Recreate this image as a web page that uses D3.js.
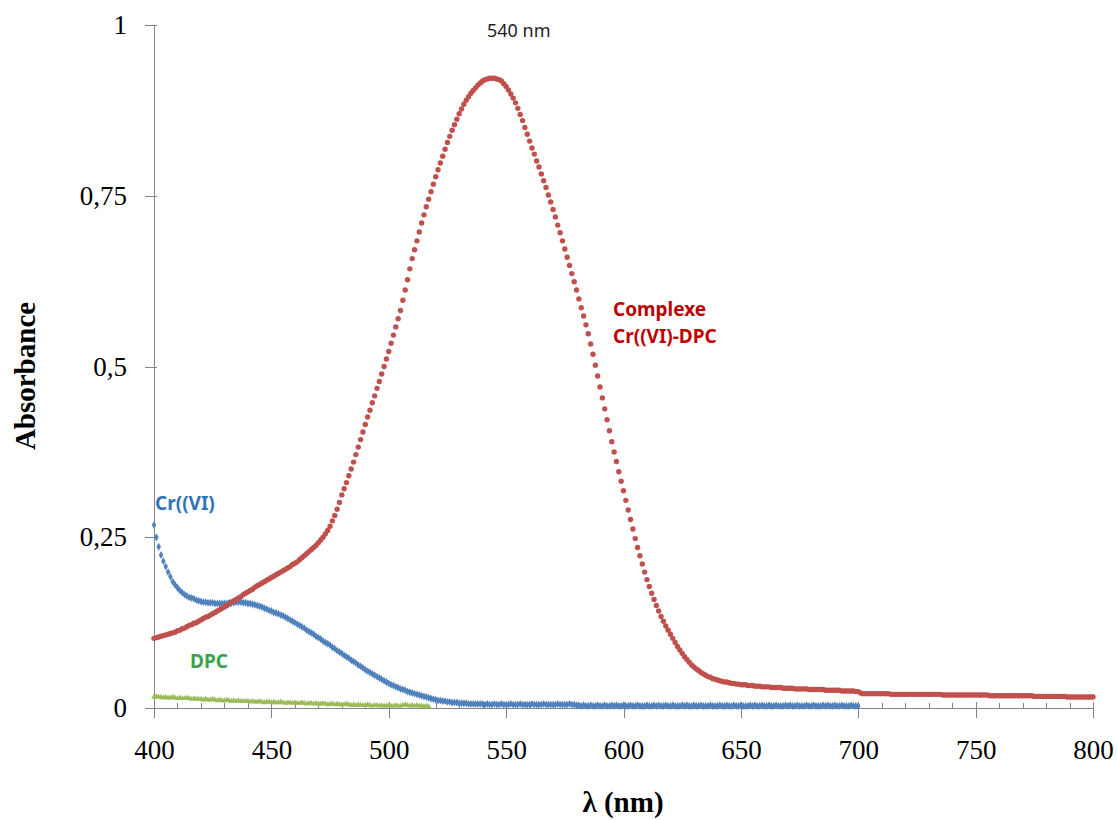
<!DOCTYPE html>
<meta charset="utf-8">
<style>
    body { margin: 0; background: #fff; }
    .axis path, .axis line { stroke: #868686; stroke-width: 1; shape-rendering: crispEdges; }
    .axis text { font-family: "Liberation Serif", "Times New Roman", serif; font-size: 27px; fill: #000; }
    .title { font-family: "Liberation Serif", "Times New Roman", serif; font-size: 29px; font-weight: bold; fill: #000; }
    .lbl { font-family: "Noto Sans", "Open Sans", sans-serif; font-size: 19px; font-weight: bold; }
</style>
<svg width="1117" height="820"></svg>
<script src="https://cdn.jsdelivr.net/npm/d3@7"></script>
<script>

    // spectra, one value per nm starting at 400 nm
    var startNm = 400;

    var complexe = [
        0.102,0.103,0.104,0.105,0.106,0.107,0.108,0.109,0.110,0.111, // 400
        0.113,0.114,0.116,0.117,0.119,0.121,0.122,0.124,0.125,0.127,
        0.129,0.131,0.133,0.134,0.136,0.138,0.140,0.142,0.144,0.146,
        0.148,0.150,0.152,0.155,0.157,0.159,0.161,0.163,0.166,0.168,
        0.170,0.172,0.174,0.177,0.179,0.181,0.183,0.185,0.187,0.189,
        0.191,0.193,0.195,0.197,0.199,0.201,0.203,0.205,0.207,0.210, // 450
        0.212,0.214,0.217,0.220,0.223,0.226,0.229,0.232,0.235,0.238,
        0.242,0.246,0.250,0.255,0.260,0.266,0.274,0.282,0.291,0.301,
        0.312,0.321,0.330,0.340,0.350,0.360,0.371,0.382,0.393,0.404,
        0.415,0.426,0.436,0.447,0.457,0.468,0.478,0.489,0.500,0.511,
        0.522,0.534,0.546,0.558,0.570,0.582,0.597,0.612,0.627,0.643, // 500
        0.658,0.671,0.684,0.697,0.710,0.722,0.734,0.745,0.756,0.767,
        0.778,0.788,0.798,0.808,0.818,0.828,0.837,0.846,0.854,0.862,
        0.870,0.877,0.884,0.890,0.895,0.900,0.904,0.908,0.912,0.915,
        0.918,0.920,0.921,0.922,0.922,0.922,0.921,0.920,0.918,0.914,
        0.910,0.905,0.899,0.893,0.886,0.878,0.869,0.860,0.850,0.840, // 550
        0.830,0.820,0.811,0.801,0.792,0.782,0.772,0.762,0.751,0.741,
        0.730,0.719,0.707,0.696,0.684,0.672,0.660,0.648,0.636,0.624,
        0.612,0.599,0.586,0.574,0.561,0.548,0.533,0.518,0.502,0.486,
        0.470,0.454,0.438,0.422,0.406,0.390,0.375,0.361,0.346,0.332,
        0.318,0.304,0.290,0.276,0.262,0.248,0.235,0.223,0.211,0.199, // 600
        0.188,0.178,0.168,0.159,0.150,0.142,0.134,0.127,0.120,0.114,
        0.108,0.102,0.096,0.090,0.085,0.080,0.075,0.071,0.067,0.063,
        0.060,0.057,0.055,0.052,0.050,0.048,0.046,0.045,0.043,0.042,
        0.041,0.040,0.039,0.038,0.038,0.037,0.036,0.036,0.035,0.035,
        0.034,0.034,0.034,0.033,0.033,0.033,0.032,0.032,0.032,0.031, // 650
        0.031,0.031,0.031,0.030,0.030,0.030,0.030,0.030,0.029,0.029,
        0.029,0.029,0.029,0.028,0.028,0.028,0.028,0.028,0.028,0.027,
        0.027,0.027,0.027,0.027,0.027,0.027,0.026,0.026,0.026,0.026,
        0.026,0.026,0.026,0.025,0.025,0.025,0.025,0.025,0.025,0.024,
        0.024,0.022,0.021,0.021,0.021,0.021,0.021,0.021,0.021,0.021, // 700
        0.021,0.021,0.021,0.021,0.020,0.020,0.020,0.020,0.020,0.020,
        0.020,0.020,0.020,0.020,0.020,0.020,0.020,0.020,0.020,0.020,
        0.020,0.020,0.020,0.020,0.020,0.020,0.019,0.019,0.019,0.019,
        0.019,0.019,0.019,0.019,0.019,0.019,0.019,0.019,0.019,0.019,
        0.019,0.019,0.019,0.019,0.019,0.019,0.018,0.018,0.018,0.018, // 750
        0.018,0.018,0.018,0.018,0.018,0.018,0.018,0.018,0.018,0.018,
        0.018,0.018,0.018,0.018,0.018,0.017,0.017,0.017,0.017,0.017,
        0.017,0.017,0.017,0.017,0.017,0.017,0.017,0.017,0.017,0.016,
        0.016,0.016,0.016,0.016,0.016,0.016,0.016,0.016,0.016,0.016,
        0.016 // 800
    ];

    var crVI = [
        0.268,0.250,0.236,0.224,0.215,0.207,0.199,0.192,0.185,0.180, // 400
        0.176,0.172,0.169,0.166,0.164,0.162,0.161,0.160,0.158,0.157,
        0.156,0.155,0.155,0.154,0.154,0.154,0.153,0.153,0.153,0.153,
        0.153,0.153,0.154,0.154,0.154,0.155,0.155,0.155,0.154,0.154,
        0.153,0.153,0.152,0.151,0.150,0.149,0.148,0.146,0.145,0.143,
        0.142,0.140,0.139,0.138,0.136,0.135,0.133,0.131,0.129,0.127, // 450
        0.125,0.123,0.121,0.119,0.117,0.114,0.112,0.110,0.108,0.105,
        0.103,0.101,0.098,0.096,0.094,0.092,0.089,0.087,0.084,0.082,
        0.080,0.077,0.075,0.073,0.070,0.068,0.066,0.063,0.061,0.059,
        0.056,0.054,0.052,0.050,0.048,0.046,0.044,0.042,0.040,0.038,
        0.036,0.034,0.033,0.031,0.030,0.028,0.027,0.026,0.024,0.023, // 500
        0.022,0.021,0.020,0.019,0.018,0.017,0.016,0.015,0.014,0.013,
        0.012,0.011,0.011,0.010,0.010,0.009,0.009,0.008,0.008,0.008,
        0.007,0.007,0.007,0.007,0.006,0.006,0.006,0.006,0.006,0.006,
        0.006,0.005,0.006,0.005,0.005,0.006,0.005,0.005,0.006,0.005,
        0.005,0.005,0.006,0.005,0.005,0.005,0.006,0.005,0.005,0.005, // 550
        0.005,0.006,0.005,0.005,0.005,0.005,0.006,0.005,0.005,0.005,
        0.005,0.005,0.006,0.005,0.005,0.005,0.005,0.006,0.005,0.005,
        0.004,0.004,0.003,0.004,0.003,0.003,0.004,0.003,0.003,0.004,
        0.003,0.003,0.004,0.003,0.003,0.004,0.003,0.004,0.003,0.003,
        0.004,0.003,0.003,0.004,0.003,0.003,0.004,0.003,0.003,0.003, // 600
        0.004,0.003,0.003,0.004,0.003,0.004,0.003,0.003,0.004,0.003,
        0.003,0.004,0.003,0.003,0.003,0.004,0.003,0.004,0.003,0.003,
        0.004,0.003,0.003,0.004,0.003,0.003,0.003,0.004,0.003,0.003,
        0.003,0.004,0.003,0.003,0.004,0.003,0.003,0.004,0.003,0.003,
        0.004,0.003,0.003,0.003,0.004,0.003,0.004,0.003,0.003,0.004, // 650
        0.003,0.003,0.004,0.003,0.003,0.004,0.003,0.003,0.003,0.004,
        0.003,0.004,0.003,0.003,0.004,0.003,0.003,0.003,0.004,0.003,
        0.003,0.004,0.003,0.003,0.003,0.004,0.003,0.004,0.003,0.003,
        0.004,0.003,0.003,0.004,0.003,0.003,0.003,0.004,0.003,0.003,
        0.003 // 700
    ];

    var dpc = [
        0.016,0.017,0.016,0.016,0.015,0.016,0.015,0.015,0.016,0.015, // 400
        0.014,0.015,0.014,0.014,0.015,0.014,0.013,0.014,0.013,0.013,
        0.013,0.012,0.013,0.012,0.012,0.013,0.012,0.011,0.012,0.011,
        0.011,0.012,0.011,0.010,0.011,0.010,0.011,0.010,0.010,0.010,
        0.010,0.009,0.010,0.009,0.009,0.010,0.009,0.008,0.009,0.009,
        0.008,0.009,0.008,0.008,0.009,0.008,0.007,0.008,0.008,0.007, // 450
        0.008,0.007,0.007,0.008,0.007,0.006,0.007,0.007,0.006,0.007,
        0.006,0.006,0.007,0.006,0.005,0.006,0.006,0.005,0.006,0.005,
        0.005,0.005,0.006,0.005,0.004,0.005,0.004,0.005,0.004,0.004,
        0.004,0.005,0.004,0.003,0.004,0.004,0.003,0.004,0.003,0.003,
        0.004,0.003,0.003,0.004,0.003,0.003,0.004,0.005,0.004,0.003, // 500
        0.004,0.003,0.004,0.003,0.003,0.002,0.003,0.002             // 517
    ];

    var xTicks = [400, 450, 500, 550, 600, 650, 700, 750, 800];
    var yTicks = [0, 0.25, 0.5, 0.75, 1];
    var yTickLabels = ["0", "0,25", "0,5", "0,75", "1"];

    var svg = d3.select("svg");

    var x = d3.scaleLinear().domain([400, 800]).range([154, 1093]);
    var y = d3.scaleLinear().domain([0, 1]).range([708, 25]);

    function pts(arr) {
        return arr.map(function (v, i) { return [startNm + i, v]; });
    }

    // y axis
    var gy = svg.append("g")
        .attr("class", "axis")
        .attr("transform", "translate(154,0)")
        .call(d3.axisLeft(y)
            .tickValues(yTicks)
            .tickFormat(function (d, i) { return yTickLabels[i]; })
            .tickSizeOuter(0)
            .tickSizeInner(9)
            .tickPadding(18));
    gy.selectAll(".tick line").attr("x1", 3);

    // x axis, minor ticks inside
    svg.append("g")
        .attr("class", "axis")
        .attr("transform", "translate(0,708)")
        .call(d3.axisBottom(x)
            .tickValues(d3.range(400, 801, 10).filter(function (d) { return d % 50; }))
            .tickSizeInner(-5)
            .tickSizeOuter(0)
            .tickFormat(""))
        .select(".domain").remove();

    var gx = svg.append("g")
        .attr("class", "axis")
        .attr("transform", "translate(0,708)")
        .call(d3.axisBottom(x)
            .tickValues(xTicks)
            .tickSizeInner(10)
            .tickSizeOuter(0));
    gx.selectAll(".tick line").attr("y1", -6);
    gx.selectAll(".tick text").attr("y", 51).attr("dy", null);

    // series
    var sym = d3.symbol().type(d3.symbolTriangle).size(14);
    svg.append("g").selectAll("path")
        .data(pts(dpc))
        .enter().append("path")
        .attr("d", sym)
        .attr("transform", function (d) { return "translate(" + x(d[0]) + "," + y(d[1]) + ")"; })
        .attr("fill", "#9bbb59");

    var dia = d3.symbol().type(d3.symbolDiamond).size(18);
    svg.append("g").selectAll("path")
        .data(pts(crVI))
        .enter().append("path")
        .attr("d", dia)
        .attr("transform", function (d) { return "translate(" + x(d[0]) + "," + y(d[1]) + ")"; })
        .attr("fill", "#4f81bd");

    svg.append("g").selectAll("circle")
        .data(pts(complexe))
        .enter().append("circle")
        .attr("cx", function (d) { return x(d[0]); })
        .attr("cy", function (d) { return y(d[1]); })
        .attr("r", 2.7)
        .attr("fill", "#c0504d");

    // titles
    svg.append("text")
        .attr("class", "title")
        .attr("transform", "translate(35,376) rotate(-90)")
        .attr("text-anchor", "middle")
        .text("Absorbance");

    svg.append("text")
        .attr("class", "title")
        .attr("x", 623)
        .attr("y", 812)
        .attr("text-anchor", "middle")
        .text("λ (nm)");

    // annotations
    svg.append("text")
        .attr("x", 487).attr("y", 37)
        .style("font-family", "'Noto Sans', sans-serif")
        .style("font-size", "18px")
        .attr("fill", "#222")
        .text("540 nm");

    svg.append("text").attr("class", "lbl")
        .attr("x", 155).attr("y", 510)
        .attr("fill", "#2e75b6")
        .text("Cr((VI)");

    svg.append("text").attr("class", "lbl")
        .attr("x", 190).attr("y", 668)
        .attr("fill", "#3aa34a")
        .text("DPC");

    var cx = svg.append("text").attr("class", "lbl")
        .attr("fill", "#c00000");
    cx.append("tspan").attr("x", 613).attr("y", 316).text("Complexe");
    cx.append("tspan").attr("x", 613).attr("y", 343).text("Cr((VI)-DPC");

</script>
